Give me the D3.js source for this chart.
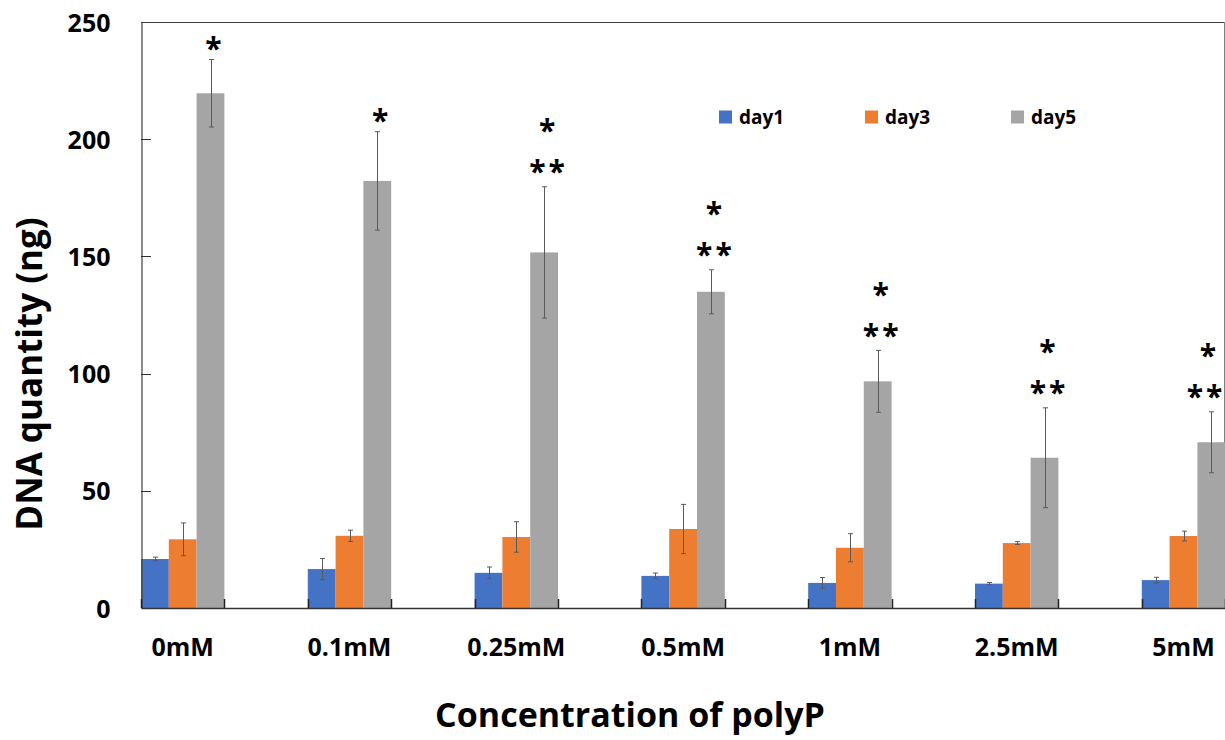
<!DOCTYPE html>
<html>
<head>
<meta charset="utf-8">
<script src="https://cdn.jsdelivr.net/npm/d3@7"></script>
<style>
  html, body { margin: 0; padding: 0; background: #ffffff; }
  svg { display: block; }
  text { font-family: "Open Sans", Lato, sans-serif; font-weight: 700; fill: #000; }
</style>
</head>
<body>
<svg id="chart" width="1225" height="740"></svg>
<script>
// DNA quantity per polyP concentration, measured on days 1, 3 and 5
const categories = ["0mM", "0.1mM", "0.25mM", "0.5mM", "1mM", "2.5mM", "5mM"];
const seriesNames = ["day1", "day3", "day5"];
const day1 = [20.9, 16.6, 15.0, 13.7, 10.7, 10.4, 11.9];
const day3 = [29.3, 30.8, 30.3, 33.7, 25.7, 27.7, 30.7];
const day5 = [219.6, 182.2, 151.7, 134.9, 96.7, 64.1, 70.7];
const day1Err = [0.8, 4.5, 2.5, 1.2, 2.3, 0.5, 1.2];
const day3Err = [7.0, 2.4, 6.5, 10.5, 6.0, 0.6, 2.1];
const day5Err = [14.4, 21.0, 28.0, 9.4, 13.2, 21.3, 13.0];
// significance marks above the day5 bars (upper row, lower row)
const sigUpper = ["*", "*", "*", "*", "*", "*", "*"];
const sigLower = ["", "", "**", "**", "**", "**", "**"];
const yTicks = [0, 50, 100, 150, 200, 250];

const colors = ["#4472C4", "#ED7D31", "#A5A5A5"];
const seriesValues = [day1, day3, day5];
const seriesErrors = [day1Err, day3Err, day5Err];

const FONT = "'Open Sans', Lato, sans-serif";
const svg = d3.select("#chart");
const plot = { left: 141, right: 1225.2, top: 22, bottom: 608 };

const x = d3.scaleBand()
  .domain(categories)
  .range([plot.left, plot.right])
  .paddingInner(0.5)
  .paddingOuter(0);

const xs = d3.scaleBand()
  .domain(seriesNames)
  .range([0, x.bandwidth()])
  .padding(0);

const y = d3.scaleLinear()
  .domain([0, 250])
  .range([plot.bottom, plot.top]);

// plot frame (top, right)
svg.append("line")
  .attr("x1", plot.left).attr("x2", 1224.5)
  .attr("y1", plot.top + 0.5).attr("y2", plot.top + 0.5)
  .attr("stroke", "#404040").attr("stroke-width", 1);
svg.append("line")
  .attr("x1", 1224.5).attr("x2", 1224.5)
  .attr("y1", plot.top).attr("y2", plot.bottom)
  .attr("stroke", "#808080").attr("stroke-width", 1);

// bars
const rows = [];
categories.forEach((c, i) => {
  seriesNames.forEach((s, j) => {
    rows.push({ cat: c, series: s, j: j, value: seriesValues[j][i], err: seriesErrors[j][i] });
  });
});

svg.append("g").selectAll("rect")
  .data(rows)
  .join("rect")
  .attr("x", d => x(d.cat) + xs(d.series))
  .attr("y", d => y(d.value))
  .attr("width", xs.bandwidth())
  .attr("height", d => y(0) - y(d.value))
  .attr("fill", d => colors[d.j]);

// error bars
const eb = svg.append("g").attr("stroke", "#5a5a5a").attr("stroke-width", 1).attr("fill", "none");
rows.forEach(d => {
  const cx = Math.round(x(d.cat) + xs(d.series) + xs.bandwidth() / 2) + 0.5;
  const y1 = y(d.value + d.err), y2 = y(d.value - d.err);
  eb.append("line").attr("x1", cx).attr("x2", cx).attr("y1", y1).attr("y2", y2);
  eb.append("line").attr("x1", cx - 2.5).attr("x2", cx + 2.5).attr("y1", y1).attr("y2", y1);
  eb.append("line").attr("x1", cx - 2.5).attr("x2", cx + 2.5).attr("y1", y2).attr("y2", y2);
});

// y axis
const yAxis = d3.axisLeft(y)
  .tickValues(yTicks)
  .tickSize(0)
  .tickPadding(31)
  .tickFormat(d3.format("d"));
const gy = svg.append("g")
  .attr("transform", `translate(${plot.left + 0.5},0)`)
  .call(yAxis);
gy.select(".domain").attr("stroke", "#404040").attr("stroke-width", 1.2);
gy.selectAll(".tick text")
  .attr("font-family", FONT)
  .attr("font-size", 25).attr("font-weight", 700).attr("fill", "#000")
  .attr("dy", "0.36em");
// inward tick marks
svg.append("g").selectAll("line")
  .data(yTicks.filter(t => t > 0 && t < 250))
  .join("line")
  .attr("x1", plot.left).attr("x2", plot.left + 10)
  .attr("y1", d => Math.round(y(d)) + 0.5).attr("y2", d => Math.round(y(d)) + 0.5)
  .attr("stroke", "#303030").attr("stroke-width", 1);

// x axis
const xAxis = d3.axisBottom(x).tickSize(0).tickPadding(30);
const gx = svg.append("g")
  .attr("transform", `translate(0,${plot.bottom})`)
  .call(xAxis);
gx.select(".domain").attr("stroke", "#333333").attr("stroke-width", 1.6);
gx.selectAll(".tick text")
  .attr("font-family", FONT)
  .attr("font-size", 25).attr("font-weight", 700).attr("fill", "#000");
// group edge ticks
const edges = [];
categories.forEach(c => { edges.push(x(c)); edges.push(x(c) + x.bandwidth()); });
svg.append("g").selectAll("line")
  .data(edges)
  .join("line")
  .attr("x1", d => Math.round(d) + 0.5).attr("x2", d => Math.round(d) + 0.5)
  .attr("y1", plot.bottom - 9).attr("y2", plot.bottom)
  .attr("stroke", "#222").attr("stroke-width", 1.5);

// significance marks (kept inside the plot's right edge)
const starG = svg.append("g");
const starSize = 30;
categories.forEach((c, i) => {
  const cx = x(c) + xs("day5") + xs.bandwidth() / 2 + 3;
  const top = y(day5[i] + day5Err[i]);
  const lowerY = top - 19;
  const upperY = sigLower[i] ? lowerY - 41 : top - 15;
  if (sigLower[i]) {
    starG.append("text").attr("x", Math.min(cx + 1.5, 1206)).attr("y", lowerY + 0.48 * starSize)
      .attr("text-anchor", "middle")
      .attr("font-family", "'DejaVu Sans', sans-serif").attr("font-weight", 400)
      .attr("font-size", starSize).attr("letter-spacing", 3)
      .text(sigLower[i]);
  }
  starG.append("text").attr("x", Math.min(cx, 1208)).attr("y", upperY + 0.48 * starSize)
    .attr("text-anchor", "middle")
    .attr("font-family", "'DejaVu Sans', sans-serif").attr("font-weight", 400)
    .attr("font-size", starSize)
    .text(sigUpper[i]);
});

// legend
const legend = svg.append("g");
seriesNames.forEach((s, j) => {
  const lx = 719 + j * 146;
  legend.append("rect").attr("x", lx).attr("y", 110.5).attr("width", 13).attr("height", 13).attr("fill", colors[j]);
  legend.append("text").attr("x", lx + 20).attr("y", 123.5).attr("font-size", 19).text(s);
});

// axis titles
svg.append("text")
  .attr("x", 630).attr("y", 727)
  .attr("text-anchor", "middle")
  .attr("font-size", 34)
  .text("Concentration of polyP");

svg.append("text")
  .attr("transform", "translate(42,374) rotate(-90)")
  .attr("text-anchor", "middle")
  .attr("font-size", 35)
  .text("DNA quantity (ng)");
</script>
</body>
</html>
